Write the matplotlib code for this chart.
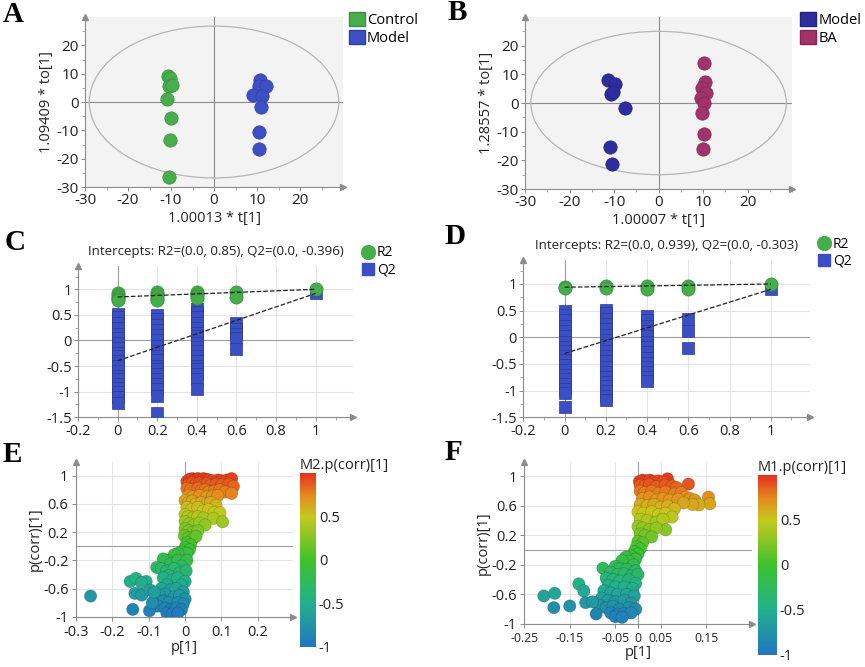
import numpy as np
import matplotlib.pyplot as plt
from matplotlib.colors import LinearSegmentedColormap
from matplotlib.patches import Ellipse, Patch
from matplotlib.lines import Line2D
from matplotlib.ticker import FuncFormatter, MultipleLocator

plt.rcParams['font.family'] = ['Open Sans', 'DejaVu Sans']
plt.rcParams['axes.unicode_minus'] = False

# ---- A: scores plot, Control vs Model ----
a_ctrl_x = [-10.6, -10.2, -10.4, -9.8, -11.0, -10.0, -10.3, -10.5]
a_ctrl_y = [9.1, 8.6, 5.6, 6.0, 1.2, -5.5, -13.5, -26.4]
a_model_x = [10.7, 10.4, 12.0, 9.1, 11.2, 11.0, 10.4, 10.4]
a_model_y = [7.9, 5.6, 5.8, 2.4, 2.2, -1.9, -10.5, -16.7]

# ---- B: scores plot, Model vs BA ----
b_model_x = [-11.3, -9.8, -10.8, -10.2, -7.6, -10.9, -10.5]
b_model_y = [8.1, 6.5, 3.2, 3.8, -1.6, -15.3, -21.1]
b_ba_x = [10.2, 10.4, 9.8, 10.6, 9.5, 10.1, 9.8, 10.2, 10.0]
b_ba_y = [13.9, 7.3, 5.4, 3.5, 1.8, 0.0, -3.5, -10.9, -16.1]

# ---- C: permutation test ----
c_r2_x = [0, 0, 0, 0, 0, 0.2, 0.2, 0.2, 0.2, 0.2, 0.4, 0.4, 0.4, 0.4, 0.6, 0.6, 1.0]
c_r2_y = [0.92, 0.88, 0.85, 0.82, 0.80, 0.95, 0.90, 0.86, 0.82, 0.80,
          0.94, 0.90, 0.86, 0.83, 0.94, 0.85, 1.0]
c_q2_x0 = [0.52, 0.45, 0.35, 0.25, 0.12, 0.05, -0.05, -0.15, -0.25, -0.30,
           -0.40, -0.50, -0.60, -0.70, -0.75, -0.85, -0.92, -1.00, -1.10, -1.22]
c_q2_x2 = [0.50, 0.42, 0.30, 0.20, 0.10, 0.00, -0.10, -0.20, -0.30, -0.38,
           -0.50, -0.55, -0.65, -0.75, -0.85, -0.95, -1.08, -1.42]
c_q2_x4 = [0.62, 0.55, 0.45, 0.35, 0.25, 0.15, 0.08, -0.05, -0.12, -0.20,
           -0.30, -0.40, -0.50, -0.55, -0.65, -0.75, -0.95]
c_q2_x6 = [0.35, 0.22, 0.12, 0.05, -0.17]
c_q2_x10 = [0.92]
c_intercepts = (0.85, -0.396)

# ---- D: permutation test ----
d_r2_x = [0, 0, 0.2, 0.2, 0.4, 0.4, 0.6, 0.6, 1.0]
d_r2_y = [0.95, 0.92, 0.96, 0.92, 0.96, 0.90, 0.97, 0.90, 1.0]
d_q2_x0 = [0.50, 0.42, 0.32, 0.22, 0.12, 0.02, -0.08, -0.18, -0.25, -0.35,
           -0.42, -0.52, -0.62, -0.70, -0.78, -0.88, -0.97, -1.05, -1.30]
d_q2_x2 = [0.52, 0.45, 0.35, 0.25, 0.15, 0.05, -0.05, -0.15, -0.25, -0.35,
           -0.45, -0.55, -0.65, -0.75, -0.83, -0.92, -1.00, -1.10, -1.18]
d_q2_x4 = [0.40, 0.32, 0.22, 0.12, 0.02, -0.08, -0.18, -0.28, -0.38, -0.48,
           -0.55, -0.65, -0.75, -0.82]
d_q2_x6 = [0.35, 0.12, -0.20]
d_q2_x10 = [0.90]
d_intercepts = (0.939, -0.303)

# ---- E: S-plot ----
e_p = [0.005, 0.012, 0.02, 0.028, 0.035, 0.042, 0.05, 0.058, 0.065, 0.075, 0.09, 0.1, 0.115, 0.128,
       0.01, 0.02, 0.03, 0.04, 0.05, 0.06, 0.07, 0.085, 0.1, 0.12, 0.133,
       0.005, 0.015, 0.025, 0.035, 0.045, 0.055, 0.065, 0.08, 0.095, 0.11, 0.128,
       0.01, 0.02, 0.04, 0.06, 0.075, 0.09,
       0.0, 0.01, 0.02, 0.03, 0.045, 0.06, 0.07, 0.085, 0.005, 0.018, 0.035, 0.05, 0.065, 0.08, 0.096,
       0.0, 0.008, 0.02, 0.035, 0.05, 0.078, 0.103, 0.0, 0.012, 0.025, 0.04, 0.055, 0.0, 0.01, 0.02, 0.035,
       -0.002, 0.01, 0.02, 0.03, 0.005, 0.015, 0.0, 0.012, -0.01, 0.005, -0.02, -0.03,
       -0.05, -0.06, -0.04, -0.02, 0.005, -0.01, -0.078, -0.065, -0.05, -0.03, -0.015, 0.003,
       -0.045, -0.06, -0.035, -0.02, 0.0, -0.01, -0.151, -0.135, -0.107, -0.12,
       -0.05, -0.065, -0.04, -0.025, -0.005, -0.055, -0.07, -0.03, -0.015, 0.0,
       -0.08, -0.06, -0.045, -0.02, -0.005, -0.075, -0.055, -0.04, -0.025, -0.01,
       -0.05, -0.035, -0.02, -0.138, -0.119, -0.096, -0.26, -0.144, -0.098, -0.09, -0.085]
e_pcorr = [0.92, 0.95, 0.96, 0.95, 0.96, 0.95, 0.96, 0.95, 0.94, 0.93, 0.94, 0.93, 0.94, 0.96,
           0.88, 0.90, 0.88, 0.90, 0.87, 0.89, 0.86, 0.88, 0.87, 0.88, 0.85,
           0.82, 0.80, 0.78, 0.82, 0.79, 0.80, 0.77, 0.78, 0.80, 0.77, 0.75,
           0.72, 0.70, 0.72, 0.70, 0.71, 0.72,
           0.65, 0.62, 0.64, 0.60, 0.62, 0.60, 0.62, 0.58, 0.55, 0.52, 0.55, 0.50, 0.52, 0.48, 0.475,
           0.45, 0.42, 0.40, 0.42, 0.40, 0.395, 0.347, 0.35, 0.32, 0.30, 0.33, 0.30, 0.25, 0.22, 0.20, 0.22,
           0.15, 0.12, 0.10, 0.14, 0.05, 0.02, -0.02, -0.05, -0.08, -0.10, -0.10, -0.12,
           -0.20, -0.18, -0.25, -0.20, -0.20, -0.28, -0.30, -0.32, -0.35, -0.32, -0.38, -0.35,
           -0.42, -0.45, -0.48, -0.45, -0.50, -0.55, -0.50, -0.456, -0.50, -0.52,
           -0.55, -0.60, -0.62, -0.60, -0.65, -0.68, -0.70, -0.72, -0.70, -0.75,
           -0.75, -0.78, -0.80, -0.80, -0.82, -0.85, -0.88, -0.90, -0.88, -0.90,
           -0.95, -0.96, -0.95, -0.669, -0.693, -0.622, -0.707, -0.896, -0.915, -0.80, -0.65]

# ---- F: S-plot ----
f_p = [0.003, 0.01, 0.018, 0.026, 0.035, 0.045, 0.065, 0.055, 0.005, 0.015, 0.025, 0.04, 0.06, 0.075, 0.111, 0.085,
       0.005, 0.015, 0.03, 0.045, 0.06, 0.08, 0.095, 0.105, 0.115, 0.125, 0.01, 0.025, 0.04, 0.055, 0.07, 0.088,
       0.155, 0.158, 0.134, 0.12, 0.1,
       0.005, 0.02, 0.035, 0.05, 0.065, 0.08, 0.0, 0.012, 0.03, 0.045, 0.06, 0.075, 0.005, 0.02, 0.04, 0.055,
       0.0, 0.01, 0.025, 0.061, 0.04, 0.005, 0.015, 0.03, 0.0, 0.01,
       -0.003, 0.005, -0.008, 0.0, -0.015, -0.027, -0.005, -0.02, -0.035, -0.01,
       -0.077, -0.05, -0.04, -0.025, -0.005, -0.06, -0.045, -0.03, -0.015, 0.0,
       -0.07, -0.055, -0.04, -0.02, -0.005, -0.065, -0.05, -0.03, -0.012, -0.13, -0.119,
       -0.075, -0.06, -0.045, -0.025, -0.008, -0.08, -0.065, -0.05, -0.03, -0.015,
       -0.085, -0.07, -0.055, -0.04, -0.02, -0.005, -0.06, -0.045, -0.03, -0.015,
       -0.092, -0.05, -0.035, -0.207, -0.183, -0.185, -0.15, -0.115, -0.1]
f_pcorr = [0.93, 0.95, 0.94, 0.95, 0.93, 0.94, 0.968, 0.92, 0.88, 0.87, 0.89, 0.86, 0.88, 0.87, 0.896, 0.85,
           0.80, 0.78, 0.80, 0.77, 0.79, 0.76, 0.78, 0.72, 0.70, 0.68, 0.70, 0.72, 0.68, 0.70, 0.68, 0.69,
           0.72, 0.63, 0.615, 0.62, 0.64,
           0.62, 0.60, 0.62, 0.58, 0.60, 0.56, 0.52, 0.50, 0.52, 0.48, 0.50, 0.45, 0.42, 0.40, 0.38, 0.42,
           0.32, 0.30, 0.28, 0.276, 0.30, 0.22, 0.20, 0.18, 0.12, 0.10,
           0.05, 0.02, -0.02, -0.05, -0.08, -0.095, -0.12, -0.15, -0.14, -0.20,
           -0.244, -0.22, -0.25, -0.26, -0.28, -0.30, -0.33, -0.32, -0.35, -0.33,
           -0.38, -0.40, -0.42, -0.40, -0.45, -0.48, -0.50, -0.50, -0.52, -0.457, -0.552,
           -0.55, -0.58, -0.60, -0.60, -0.62, -0.65, -0.68, -0.70, -0.68, -0.72,
           -0.75, -0.78, -0.76, -0.80, -0.78, -0.80, -0.85, -0.87, -0.86, -0.85,
           -0.864, -0.90, -0.91, -0.62, -0.584, -0.778, -0.756, -0.71, -0.70]

gray = '#8c8c8c'
txt = '#222222'
fmt = FuncFormatter(lambda v, pos: '{:g}'.format(round(v, 3)))

splot_cmap = LinearSegmentedColormap.from_list(
    'splot', [(0.0, '#2176c0'), (0.25, '#22b08c'), (0.5, '#3ec22c'),
              (0.75, '#c8c81e'), (0.87, '#e58a1e'), (1.0, '#e5301e')])


def style_axes(ax, bg='white', labelsize=10):
    ax.set_facecolor(bg)
    for s in ['top', 'right']:
        ax.spines[s].set_visible(False)
    for s in ['left', 'bottom']:
        ax.spines[s].set_color(gray)
        ax.spines[s].set_linewidth(0.8)
    ax.tick_params(direction='out', length=3, width=0.7, color=gray,
                   labelsize=labelsize, labelcolor=txt, pad=1.5)
    ax.tick_params(which='minor', direction='out', length=2, width=0.5, color=gray)
    ax.plot(1, 0, '>', color=gray, ms=4, transform=ax.transAxes, clip_on=False)
    ax.plot(0, 1, '^', color=gray, ms=4, transform=ax.transAxes, clip_on=False)
    ax.xaxis.set_major_formatter(fmt)
    ax.yaxis.set_major_formatter(fmt)


fig = plt.figure(figsize=(8.65, 6.67), dpi=100)


def score_plot(rect, g1, g2, ell, ylabel, xlabel, leg_xy):
    ax = fig.add_axes(rect)
    style_axes(ax, bg='#f3f3f3', labelsize=11)
    ax.set_xlim(-30, 30)
    ax.set_ylim(-30, 30)
    ax.set_xticks([-30, -20, -10, 0, 10, 20])
    ax.set_yticks([-30, -20, -10, 0, 10, 20])
    ax.xaxis.set_minor_locator(MultipleLocator(5))
    ax.yaxis.set_minor_locator(MultipleLocator(5))
    ax.axhline(0, color=gray, lw=0.8, zorder=1)
    ax.axvline(0, color=gray, lw=0.8, zorder=1)
    ax.add_patch(Ellipse((0, 0), 2 * ell[0], 2 * ell[1], fill=False,
                         ec='#b5b5b5', lw=0.9, zorder=1))
    handles = []
    for xs, ys, col, ecol, name in (g1, g2):
        ax.scatter(xs, ys, s=92, color=col, edgecolors=ecol, linewidths=0.5, zorder=3)
        handles.append(Patch(facecolor=col, edgecolor=ecol, label=name))
    ax.set_ylabel(ylabel, fontsize=10.5, color=txt, labelpad=2)
    ax.set_xlabel(xlabel, fontsize=10.5, color=txt, labelpad=2)
    fig.legend(handles=handles, loc='upper left', bbox_to_anchor=leg_xy, frameon=False,
               fontsize=10.5, handlelength=1.1, handleheight=1.1, handletextpad=0.15,
               labelspacing=0.15, borderaxespad=0, borderpad=0)
    return ax


score_plot([0.0983, 0.7196, 0.2983, 0.2549],
           (a_ctrl_x, a_ctrl_y, '#48ad4c', '#3a8f3e', 'Control'),
           (a_model_x, a_model_y, '#3d50c3', '#2f3f9e', 'Model'),
           (29, 26.8), '1.09409 * to[1]', '1.00013 * t[1]', (0.403, 0.982))
score_plot([0.607, 0.7166, 0.3087, 0.2579],
           (b_model_x, b_model_y, '#2e2d9d', '#23227c', 'Model'),
           (b_ba_x, b_ba_y, '#a2326a', '#832654', 'BA'),
           (28.7, 25), '1.28557 * to[1]', '1.00007 * t[1]', (0.925, 0.982))


def perm_plot(rect, r2x, r2y, q2cols, intercepts, title, leg_xy):
    ax = fig.add_axes(rect)
    style_axes(ax, labelsize=10.5)
    ax.set_xlim(-0.2, 1.19)
    ax.set_ylim(-1.5, 1.45)
    ax.set_xticks([-0.2, 0, 0.2, 0.4, 0.6, 0.8, 1])
    ax.set_yticks([-1.5, -1, -0.5, 0, 0.5, 1])
    ax.xaxis.set_minor_locator(MultipleLocator(0.1))
    ax.yaxis.set_minor_locator(MultipleLocator(0.25))
    ax.grid(color='#e4e4e4', lw=0.8)
    ax.set_axisbelow(True)
    ax.axhline(0, color='#a0a0a0', lw=0.8, zorder=1)
    ax.axvline(0, color='#a0a0a0', lw=0.8, zorder=1)
    for xv, vals in q2cols:
        ax.scatter([xv] * len(vals), vals, marker='s', s=72, color='#3b4fc4',
                   edgecolors='#2c3b95', linewidths=0.5, zorder=3)
    ax.scatter(r2x, r2y, s=90, color='#45ad4a', edgecolors='#369039', linewidths=0.5, zorder=4)
    q2_end = q2cols[-1][1][0]
    ax.plot([0, 1], [intercepts[0], 1.0], ls='--', color='#222222', lw=0.9, zorder=5)
    ax.plot([0, 1], [intercepts[1], q2_end], ls='--', color='#222222', lw=0.9, zorder=5)
    ax.set_title(title, fontsize=9.5, color=txt, pad=8)
    handles = [Line2D([], [], marker='o', ls='', ms=10, color='#45ad4a', label='R2'),
               Line2D([], [], marker='s', ls='', ms=9, color='#3b4fc4', label='Q2')]
    fig.legend(handles=handles, loc='upper left', bbox_to_anchor=leg_xy, frameon=False,
               fontsize=10, handlelength=0.9, handletextpad=0.2, labelspacing=0.15,
               borderaxespad=0, borderpad=0)
    return ax


perm_plot([0.0902, 0.3744, 0.3183, 0.2264], c_r2_x, c_r2_y,
          [(0, c_q2_x0), (0.2, c_q2_x2), (0.4, c_q2_x4), (0.6, c_q2_x6), (1.0, c_q2_x10)],
          c_intercepts, 'Intercepts: R2=(0.0, 0.85), Q2=(0.0, -0.396)', (0.418, 0.632))
perm_plot([0.605, 0.3744, 0.3314, 0.2358], d_r2_x, d_r2_y,
          [(0, d_q2_x0), (0.2, d_q2_x2), (0.4, d_q2_x4), (0.6, d_q2_x6), (1.0, d_q2_x10)],
          d_intercepts, 'Intercepts: R2=(0.0, 0.939), Q2=(0.0, -0.303)', (0.945, 0.645))


def s_plot(rect, cbar_rect, px, pcorr, xlim, xticks, cb_title, xsize):
    ax = fig.add_axes(rect)
    style_axes(ax, labelsize=10.5)
    ax.tick_params(axis='x', labelsize=xsize, pad=3)
    ax.tick_params(axis='y', pad=2.5)
    ax.set_xlim(*xlim)
    ax.set_ylim(-1, 1.2)
    ax.set_xticks(xticks)
    ax.set_yticks([-1, -0.6, -0.2, 0.2, 0.6, 1])
    ax.grid(color='#e4e4e4', lw=0.8)
    ax.set_axisbelow(True)
    ax.axhline(0, color='#a0a0a0', lw=0.8, zorder=1)
    ax.axvline(0, color='#a0a0a0', lw=0.8, zorder=1)
    sc = ax.scatter(px, pcorr, c=pcorr, cmap=splot_cmap, vmin=-1, vmax=1, s=80,
                    edgecolors='#00000030', linewidths=0.5, zorder=3)
    ax.set_xlabel('p[1]', fontsize=10.5, color=txt, labelpad=0)
    ax.set_ylabel('p(corr)[1]', fontsize=10.5, color=txt, labelpad=0)
    cax = fig.add_axes(cbar_rect)
    cb = fig.colorbar(sc, cax=cax, ticks=[-1, -0.5, 0, 0.5])
    cb.outline.set_visible(False)
    cb.ax.tick_params(length=0, labelsize=10.5, labelcolor=txt, pad=2)
    cb.ax.yaxis.set_major_formatter(fmt)
    cax.set_title(cb_title, fontsize=10.5, color=txt, loc='left', pad=3)
    return ax


s_plot([0.0879, 0.0754, 0.2509, 0.2324], [0.3468, 0.030, 0.0185, 0.2609], e_p, e_pcorr,
       (-0.3, 0.297), [-0.3, -0.2, -0.1, 0, 0.1, 0.2], 'M2.p(corr)[1]', 10.5)
s_plot([0.6061, 0.0645, 0.2629, 0.2433], [0.8763, 0.018, 0.022, 0.2699], f_p, f_pcorr,
       (-0.25, 0.25), [-0.25, -0.15, -0.05, 0, 0.05, 0.15], 'M1.p(corr)[1]', 8.8)

# panel letters
for letter, (x, y) in zip('ABCDEF', [(13, 15), (457, 13), (15, 242), (455, 237), (12, 455), (453, 452)]):
    fig.text(x / 865, 1 - y / 667, letter, fontsize=21, fontweight='bold',
             family='Liberation Serif', ha='center', va='center')

fig.savefig('out.png', dpi=100)
